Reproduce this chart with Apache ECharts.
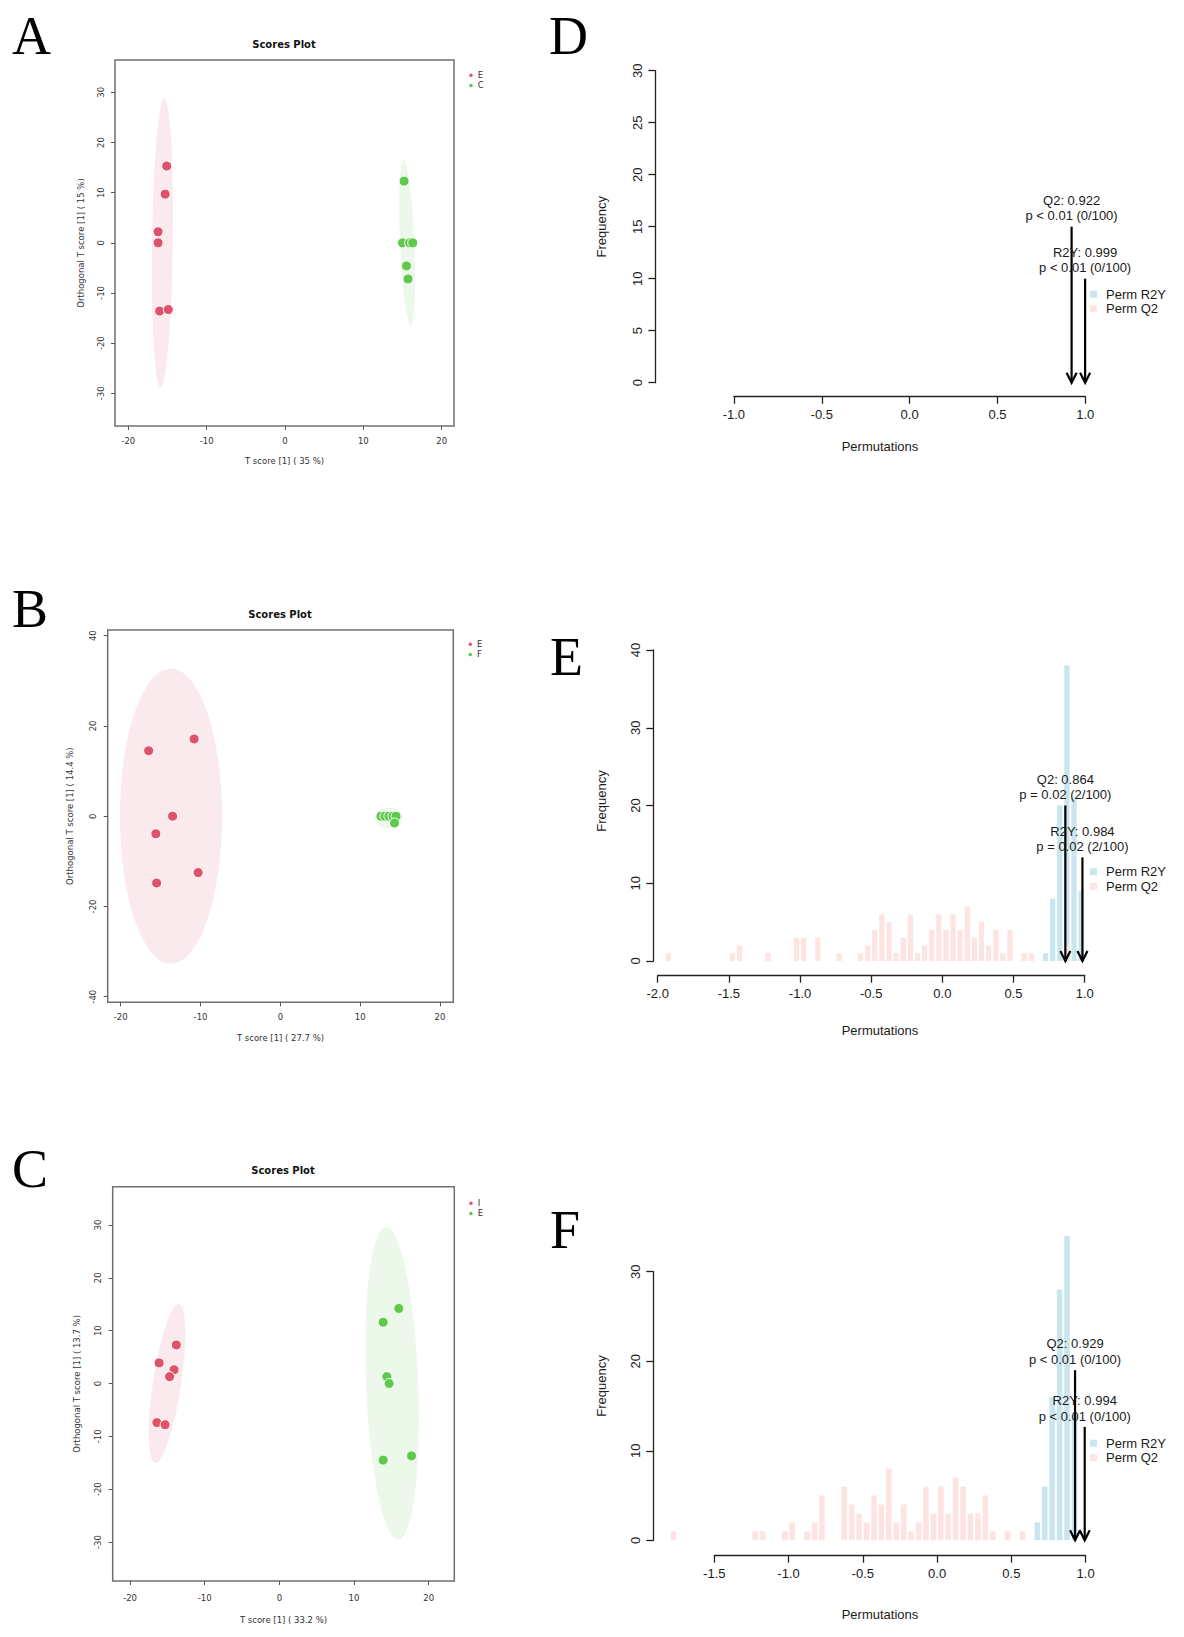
<!DOCTYPE html>
<html>
<head>
<meta charset="utf-8">
<script src="https://cdn.jsdelivr.net/npm/echarts@6/dist/echarts.min.js"></script>
<style>
  html, body { margin: 0; padding: 0; background: #fff; }
  #fig { width: 1184px; height: 1637px; }
</style>
</head>
<body>
<div id="fig"></div>
<script>
// ---- panel A scores (E vs C)
var aE = [[-15.1, 15.3], [-15.3, 9.7], [-16.2, 2.2], [-16.2, 0], [-16.0, -13.6], [-14.9, -13.3]];
var aC = [[15.2, 12.3], [15.0, 0], [15.9, 0], [16.3, 0], [15.5, -4.6], [15.7, -7.2]];
// ellipse: cx, cy, rx, ry, shear
var aEllE = [-15.65, 0, 1.33, 28.8, 0.25];
var aEllC = [15.6, 0, 0.9, 16.4, -0.45];

// ---- panel B scores (E vs F)
var bE = [[-16.5, 14.5], [-10.8, 17.1], [-13.5, 0], [-15.6, -3.9], [-15.5, -14.8], [-10.3, -12.5]];
var bF = [[12.6, 0], [13.1, 0], [13.6, 0], [14.1, 0], [14.5, 0], [14.3, -1.5]];
var bEllE = [-13.7, 0, 6.4, 32.7, 0];
var bEllF = [13.6, -0.4, 1.7, 2.3, 0];

// ---- panel C scores (I vs E)
var cI = [[-13.8, 7.3], [-16.1, 3.9], [-14.1, 2.6], [-14.7, 1.3], [-16.4, -7.4], [-15.3, -7.8]];
var cE = [[16.0, 14.2], [13.9, 11.6], [14.4, 1.3], [14.7, 0], [13.9, -14.5], [17.7, -13.7]];
var cEllI = [-15.05, 0, 1.9, 15.05, 1.55];
var cEllE = [15.1, 0, 3.5, 29.6, -0.8];

var scoreXTicks = [-20, -10, 0, 10, 20];
var aYTicks = [-30, -20, -10, 0, 10, 20, 30];
var bYTicks = [-40, -20, 0, 20, 40];
var cYTicks = [-30, -20, -10, 0, 10, 20, 30];

// ---- permutation histograms (bin centres, width 0.05)
var dR2YBins = [];
var dR2YCounts = [];
var dQ2Bins = [];
var dQ2Counts = [];

var eR2YBins = [0.725, 0.775, 0.825, 0.875, 0.925, 0.975];
var eR2YCounts = [1, 8, 20, 38, 21, 9];
var eQ2Bins = [-1.925, -1.475, -1.425, -1.225, -1.025, -0.975, -0.875, -0.725, -0.575, -0.525, -0.475,
  -0.425, -0.375, -0.325, -0.275, -0.225, -0.175, -0.125, -0.075, -0.025, 0.025, 0.075, 0.125,
  0.175, 0.225, 0.275, 0.325, 0.375, 0.425, 0.475, 0.575, 0.625, 0.875];
var eQ2Counts = [1, 1, 2, 1, 3, 3, 3, 1, 1, 2, 4, 6, 5, 1, 3, 6, 1, 2, 4, 6, 4, 6, 4, 7, 3, 5, 2, 4, 1, 4, 1, 1, 2];

var fR2YBins = [0.675, 0.725, 0.775, 0.825, 0.875, 0.925];
var fR2YCounts = [2, 6, 16, 28, 34, 14];
var fQ2Bins = [-1.775, -1.225, -1.175, -1.025, -0.975, -0.875, -0.825, -0.775, -0.625, -0.575, -0.525,
  -0.475, -0.425, -0.375, -0.325, -0.275, -0.225, -0.175, -0.125, -0.075, -0.025, 0.025, 0.075,
  0.125, 0.175, 0.225, 0.275, 0.325, 0.375, 0.475, 0.575];
var fQ2Counts = [1, 1, 1, 1, 2, 1, 2, 5, 6, 4, 3, 2, 5, 4, 8, 2, 4, 1, 2, 6, 3, 6, 3, 7, 6, 3, 3, 5, 1, 1, 1];

// arrows: observed statistic, arrow start height, label
var dArrowX = [0.922, 0.999];
var dArrowTop = [15, 10];
var dArrowText = ['Q2: 0.922\np < 0.01 (0/100)', 'R2Y: 0.999\np < 0.01 (0/100)'];
var eArrowX = [0.864, 0.984];
var eArrowTop = [20, 13.33];
var eArrowText = ['Q2: 0.864\np = 0.02 (2/100)', 'R2Y: 0.984\np = 0.02 (2/100)'];
var fArrowX = [0.929, 0.994];
var fArrowTop = [19, 12.67];
var fArrowText = ['Q2: 0.929\np < 0.01 (0/100)', 'R2Y: 0.994\np < 0.01 (0/100)'];

var BIN = 0.05;
var RED = '#de536b', GREEN = '#5fc94c';
var BLUE_BAR = '#c9e6ef', PINK_BAR = '#fde4e2';
var SANS = 'Liberation Sans';
var SCORE_FONT = 'DejaVu Sans';

var chart = echarts.init(document.getElementById('fig'), null, { renderer: 'svg' });

var grids = [], xAxes = [], yAxes = [], series = [], legends = [], titles = [];

function ellipseSeries(idx, p, fill) {
  return {
    type: 'custom', name: 'ell' + idx + fill, xAxisIndex: idx, yAxisIndex: idx,
    silent: true, z: 1, data: [[p[0], p[1]]],
    renderItem: function (params, api) {
      var pts = [];
      for (var k = 0; k <= 90; k++) {
        var t = k / 90 * 2 * Math.PI;
        pts.push(api.coord([p[0] + p[2] * Math.cos(t) + p[4] * Math.sin(t), p[1] + p[3] * Math.sin(t)]));
      }
      return { type: 'polygon', shape: { points: pts }, style: { fill: fill } };
    }
  };
}

function scorePanel(idx, box, ext, yTicks, names, groups, ells, xName, yName, legendPos, titlePos, nameGaps) {
  grids.push({ left: box[0], top: box[1], width: box[2], height: box[3], show: true,
    borderColor: '#707070', borderWidth: 1.5, backgroundColor: 'transparent' });
  var txt = { fontFamily: SCORE_FONT, fontSize: 8.5, color: '#333' };
  xAxes.push({
    type: 'value', gridIndex: idx, min: ext[0], max: ext[1],
    axisLine: { show: false, onZero: false }, splitLine: { show: false },
    axisTick: { show: true, length: 4, customValues: scoreXTicks, lineStyle: { color: '#555' } },
    axisLabel: Object.assign({ customValues: scoreXTicks, margin: nameGaps[0] }, txt),
    name: xName, nameLocation: 'middle', nameGap: nameGaps[1], nameTextStyle: txt
  });
  yAxes.push({
    type: 'value', gridIndex: idx, min: ext[2], max: ext[3],
    axisLine: { show: false, onZero: false }, splitLine: { show: false },
    axisTick: { show: true, length: 4, customValues: yTicks, lineStyle: { color: '#555' } },
    axisLabel: Object.assign({ customValues: yTicks, rotate: 90, margin: nameGaps[2] }, txt),
    name: yName, nameLocation: 'middle', nameGap: nameGaps[3], nameTextStyle: txt
  });
  series.push(ellipseSeries(idx, ells[0], 'rgba(222,83,107,0.12)'));
  series.push(ellipseSeries(idx, ells[1], 'rgba(95,201,76,0.12)'));
  var cols = [RED, GREEN];
  for (var g = 0; g < 2; g++) {
    series.push({
      type: 'scatter', name: names[g], xAxisIndex: idx, yAxisIndex: idx, z: 3,
      data: groups[g], symbolSize: 10,
      itemStyle: { color: cols[g], borderColor: '#fff', borderWidth: 1, opacity: 1 }
    });
  }
  legends.push({
    left: legendPos[0], top: legendPos[1], orient: 'vertical', itemGap: 0, padding: 0,
    itemWidth: 5.5, itemHeight: 5.5, icon: 'circle', selectedMode: false,
    textStyle: { fontFamily: SCORE_FONT, fontSize: 8.5, color: '#333', lineHeight: 10.3, padding: [0, 0, 0, -1] },
    data: [{ name: names[0], itemStyle: { color: RED } }, { name: names[1], itemStyle: { color: GREEN } }]
  });
  titles.push({
    text: 'Scores Plot', left: titlePos[0], top: titlePos[1], textAlign: 'center', padding: 0,
    textStyle: { fontFamily: SCORE_FONT, fontSize: 10, fontWeight: 'bold', color: '#111' }
  });
}

function histPanel(idx, box, xr, yr, offs, bins, arrows, legendPos) {
  grids.push({ left: box[0], top: box[1], width: box[2], height: box[3] });
  var line = { color: '#222', width: 1.3 };
  var txt = { fontFamily: SANS, fontSize: 13, color: '#1a1a1a' };
  xAxes.push({
    type: 'value', gridIndex: idx, min: xr[0], max: xr[1], interval: 0.5, offset: offs[0],
    axisLine: { show: true, onZero: false, lineStyle: line }, splitLine: { show: false },
    axisTick: { show: true, length: 7, lineStyle: line },
    axisLabel: Object.assign({ margin: 11, formatter: function (v) { return v.toFixed(1); } }, txt)
  });
  yAxes.push({
    type: 'value', gridIndex: idx, min: yr[0], max: yr[1], interval: yr[2], offset: offs[1],
    axisLine: { show: true, onZero: false, lineStyle: line }, splitLine: { show: false },
    axisTick: { show: true, length: 7, lineStyle: line },
    axisLabel: Object.assign({ margin: 11, rotate: 90 }, txt)
  });
  var spec = [['Perm R2Y', BLUE_BAR, bins[0], bins[1]], ['Perm Q2', PINK_BAR, bins[2], bins[3]]];
  spec.forEach(function (s) {
    series.push({
      type: 'custom', name: s[0], xAxisIndex: idx, yAxisIndex: idx, z: 2, clip: false,
      itemStyle: { color: s[1] },
      data: s[2].map(function (c, i) { return [c, s[3][i]]; }),
      renderItem: function (params, api) {
        var c = api.value(0), n = api.value(1);
        var p0 = api.coord([c - BIN / 2, n]);
        var p1 = api.coord([c + BIN / 2, 0]);
        return { type: 'rect',
          shape: { x: p0[0] + 0.9, y: p0[1], width: p1[0] - p0[0] - 1.8, height: p1[1] - p0[1] },
          style: { fill: s[1] } };
      }
    });
  });
  series.push({
    type: 'custom', name: 'arrows' + idx, xAxisIndex: idx, yAxisIndex: idx, z: 5, clip: false, silent: true,
    data: arrows[0].map(function (x, i) { return [x, arrows[1][i], i]; }),
    renderItem: function (params, api) {
      var top = api.coord([api.value(0), api.value(1)]);
      var tip = api.coord([api.value(0), 0]);
      return { type: 'group', children: [
        { type: 'line', shape: { x1: top[0], y1: top[1], x2: tip[0], y2: tip[1] },
          style: { stroke: '#000', lineWidth: 2.2 } },
        { type: 'polyline', shape: { points: [[tip[0] - 5, tip[1] - 10], tip, [tip[0] + 5, tip[1] - 10]] },
          style: { stroke: '#000', lineWidth: 2.2, fill: null } },
        { type: 'text', x: top[0], y: top[1] - 3,
          style: { text: arrows[2][api.value(2)], align: 'center', verticalAlign: 'bottom',
            fontFamily: SANS, fontSize: 13, lineHeight: 15.5, fill: '#1a1a1a' } }
      ] };
    }
  });
  legends.push({
    left: legendPos[0], top: legendPos[1], orient: 'vertical', itemGap: 0, padding: 0,
    itemWidth: 7, itemHeight: 7, icon: 'rect', selectedMode: false,
    textStyle: { fontFamily: SANS, fontSize: 13, color: '#1a1a1a', lineHeight: 14.5, padding: [0, 0, 0, 4] },
    data: [{ name: 'Perm R2Y', itemStyle: { color: BLUE_BAR } }, { name: 'Perm Q2', itemStyle: { color: PINK_BAR } }]
  });
}

scorePanel(0, [115, 60, 339, 366], [-21.7, 21.57, -36.51, 36.44], aYTicks, ['E', 'C'], [aE, aC],
  [aEllE, aEllC], 'T score [1] ( 35 %)', 'Orthogonal T score [1] ( 15 %)', [467.2, 70], [284, 39], [10, 30, 10, 30]);
scorePanel(1, [107.7, 630, 345.6, 372.3], [-21.63, 21.67, -41.24, 41.26], bYTicks, ['E', 'F'], [bE, bF],
  [bEllE, bEllF], 'T score [1] ( 27.7 %)', 'Orthogonal T score [1] ( 14.4 %)', [466.5, 639], [280, 609], [10, 31, 10, 33]);
scorePanel(2, [112.7, 1186.7, 341.6, 394.3], [-22.32, 23.43, -37.38, 37.25], cYTicks, ['I', 'E'], [cI, cE],
  [cEllI, cEllE], 'T score [1] ( 33.2 %)', 'Orthogonal T score [1] ( 13.7 %)', [467.2, 1198], [283, 1165], [12, 34, 10, 31]);

histPanel(3, [733.9, 70.7, 351.4, 312], [-1, 1], [0, 30, 5], [14, 78.5],
  [dR2YBins, dR2YCounts, dQ2Bins, dQ2Counts], [dArrowX, dArrowTop, dArrowText], [1090, 287]);
histPanel(4, [657.7, 650, 427, 311], [-2, 1], [0, 40, 10], [14.7, 4.4],
  [eR2YBins, eR2YCounts, eQ2Bins, eQ2Counts], [eArrowX, eArrowTop, eArrowText], [1090, 864.5]);
histPanel(5, [714.3, 1271.7, 371.3, 268.6], [-1.5, 1], [0, 30, 10], [15.4, 61],
  [fR2YBins, fR2YCounts, fQ2Bins, fQ2Counts], [fArrowX, fArrowTop, fArrowText], [1090, 1436]);

var graphics = [];
[['A', 12, 59], ['D', 549, 59], ['B', 12, 632], ['E', 550, 680], ['C', 12, 1192], ['F', 550, 1253]].forEach(function (l) {
  graphics.push({ type: 'text', left: l[1], top: l[2] - 50,
    style: { text: l[0], fontFamily: 'Liberation Serif', fontSize: 54, fill: '#000' } });
});
[[226.7], [801], [1386]].forEach(function (y) {
  graphics.push({ type: 'text', x: 601, y: y[0], rotation: Math.PI / 2,
    style: { text: 'Frequency', align: 'center', verticalAlign: 'middle', fontFamily: SANS, fontSize: 13, fill: '#1a1a1a' } });
});
[[446.7], [1030], [1614]].forEach(function (y) {
  graphics.push({ type: 'text', x: 880, y: y[0],
    style: { text: 'Permutations', align: 'center', verticalAlign: 'middle', fontFamily: SANS, fontSize: 13, fill: '#1a1a1a' } });
});

chart.setOption({
  backgroundColor: '#fff',
  animation: false,
  title: titles,
  legend: legends,
  grid: grids,
  xAxis: xAxes,
  yAxis: yAxes,
  series: series,
  graphic: graphics
});
</script>
</body>
</html>
